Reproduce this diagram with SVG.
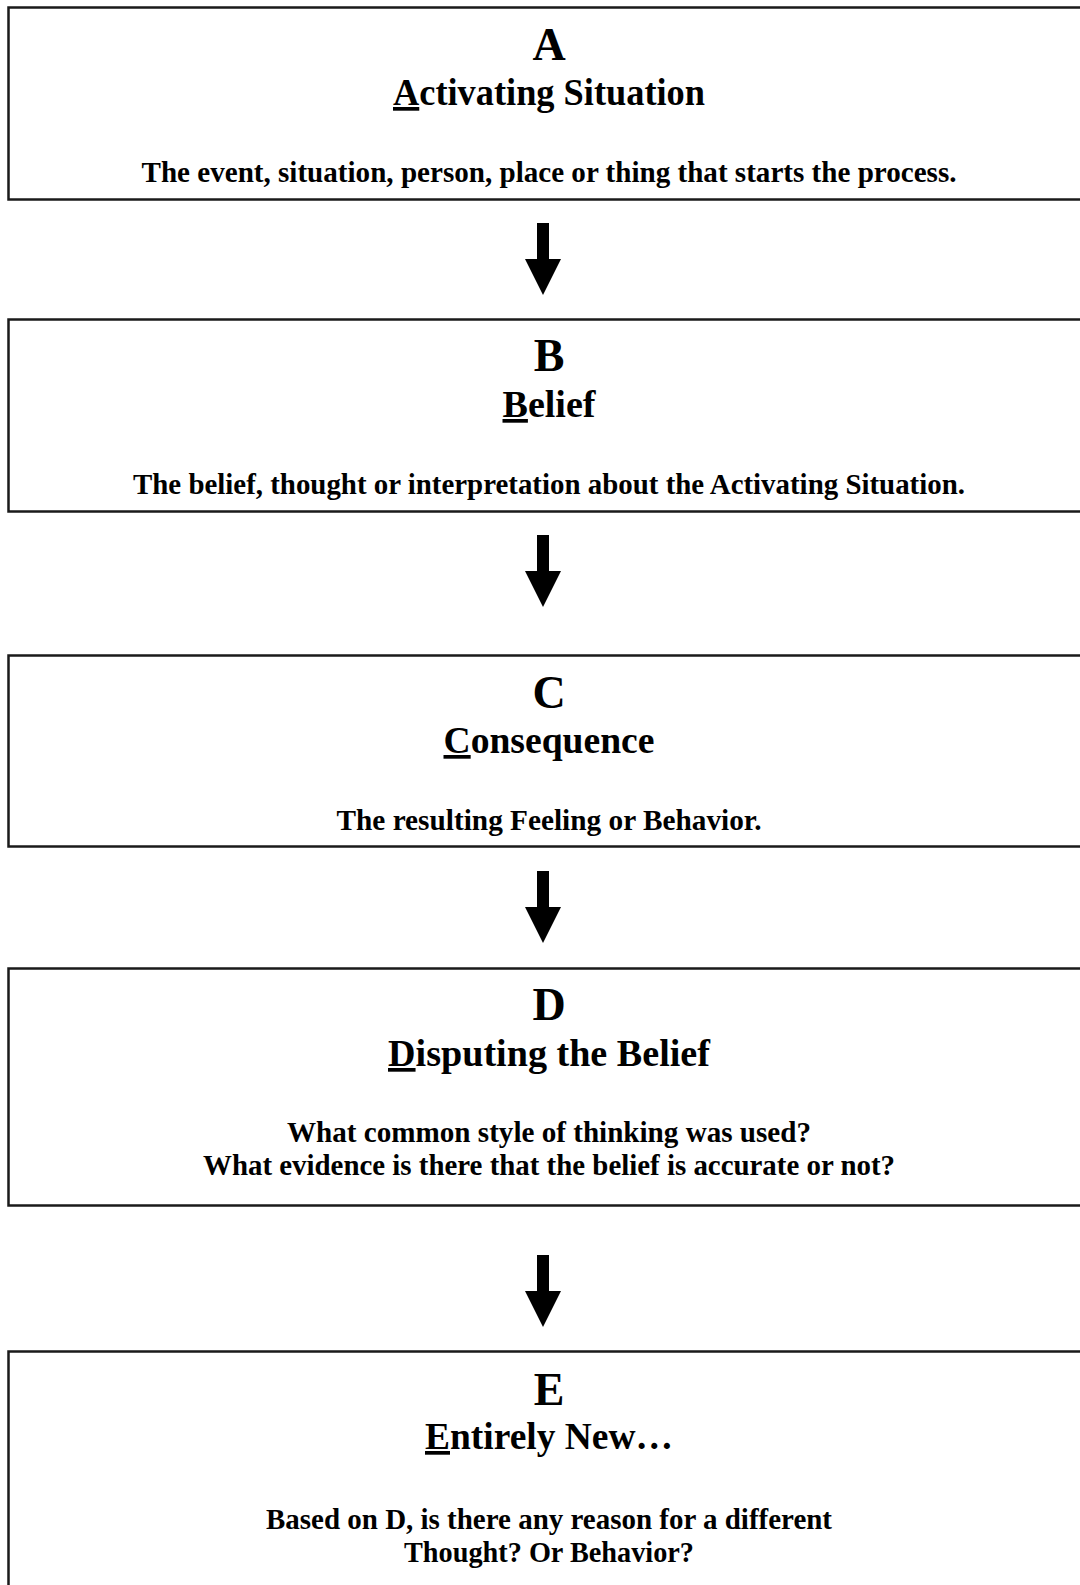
<svg xmlns="http://www.w3.org/2000/svg" width="1080" height="1585" viewBox="0 0 1080 1585">
<style>
.box{fill:#fff;stroke:#1a1a1a;stroke-width:2.5}
.t{font-family:"Liberation Serif","Times New Roman",serif;font-weight:bold;fill:#000;text-anchor:middle}
.l{font-size:46px}
.h{font-size:37px}
.s{font-size:29px}
.u{text-decoration:underline}
.arr{fill:#000}
</style>
<rect width="1080" height="1585" fill="#fff"/>
<g id="node-a">
<rect class="box" x="8.5" y="7.5" width="1090" height="192"/>
<text class="t l" x="549" y="60">A</text>
<text class="t h" x="549" y="105" textLength="312" lengthAdjust="spacingAndGlyphs"><tspan class="u">A</tspan>ctivating Situation</text>
<text class="t s" x="549" y="182" textLength="815" lengthAdjust="spacingAndGlyphs">The event, situation, person, place or thing that starts the process.</text>
</g>
<g id="node-b">
<rect class="box" x="8.5" y="319.5" width="1090" height="192"/>
<text class="t l" x="549" y="371">B</text>
<text class="t h" x="549" y="417" textLength="93" lengthAdjust="spacingAndGlyphs"><tspan class="u">B</tspan>elief</text>
<text class="t s" x="549" y="494" textLength="832" lengthAdjust="spacingAndGlyphs">The belief, thought or interpretation about the Activating Situation.</text>
</g>
<g id="node-c">
<rect class="box" x="8.5" y="655.5" width="1090" height="191"/>
<text class="t l" x="549" y="708">C</text>
<text class="t h" x="549" y="753" textLength="211" lengthAdjust="spacingAndGlyphs"><tspan class="u">C</tspan>onsequence</text>
<text class="t s" x="549" y="830" textLength="425" lengthAdjust="spacingAndGlyphs">The resulting Feeling or Behavior.</text>
</g>
<g id="node-d">
<rect class="box" x="8.5" y="968.5" width="1090" height="237"/>
<text class="t l" x="549" y="1020">D</text>
<text class="t h" x="549" y="1066" textLength="322" lengthAdjust="spacingAndGlyphs"><tspan class="u">D</tspan>isputing the Belief</text>
<text class="t s" x="549" y="1142" textLength="524" lengthAdjust="spacingAndGlyphs">What common style of thinking was used?</text>
<text class="t s" x="549" y="1175" textLength="692" lengthAdjust="spacingAndGlyphs">What evidence is there that the belief is accurate or not?</text>
</g>
<g id="node-e">
<rect class="box" x="8.5" y="1351.5" width="1090" height="260"/>
<text class="t l" x="549" y="1405">E</text>
<text class="t h" x="549" y="1449" textLength="248" lengthAdjust="spacingAndGlyphs"><tspan class="u">E</tspan>ntirely New…</text>
<text class="t s" x="549" y="1529" textLength="566" lengthAdjust="spacingAndGlyphs">Based on D, is there any reason for a different</text>
<text class="t s" x="549" y="1562" textLength="290" lengthAdjust="spacingAndGlyphs">Thought? Or Behavior?</text>
</g>
<g id="connectors">
<polygon class="arr" points="537,223 549,223 549,259 561,259 543,295 525,259 537,259"/>
<polygon class="arr" points="537,535 549,535 549,571 561,571 543,607 525,571 537,571"/>
<polygon class="arr" points="537,871 549,871 549,907 561,907 543,943 525,907 537,907"/>
<polygon class="arr" points="537,1255 549,1255 549,1291 561,1291 543,1327 525,1291 537,1291"/>
</g>
</svg>
